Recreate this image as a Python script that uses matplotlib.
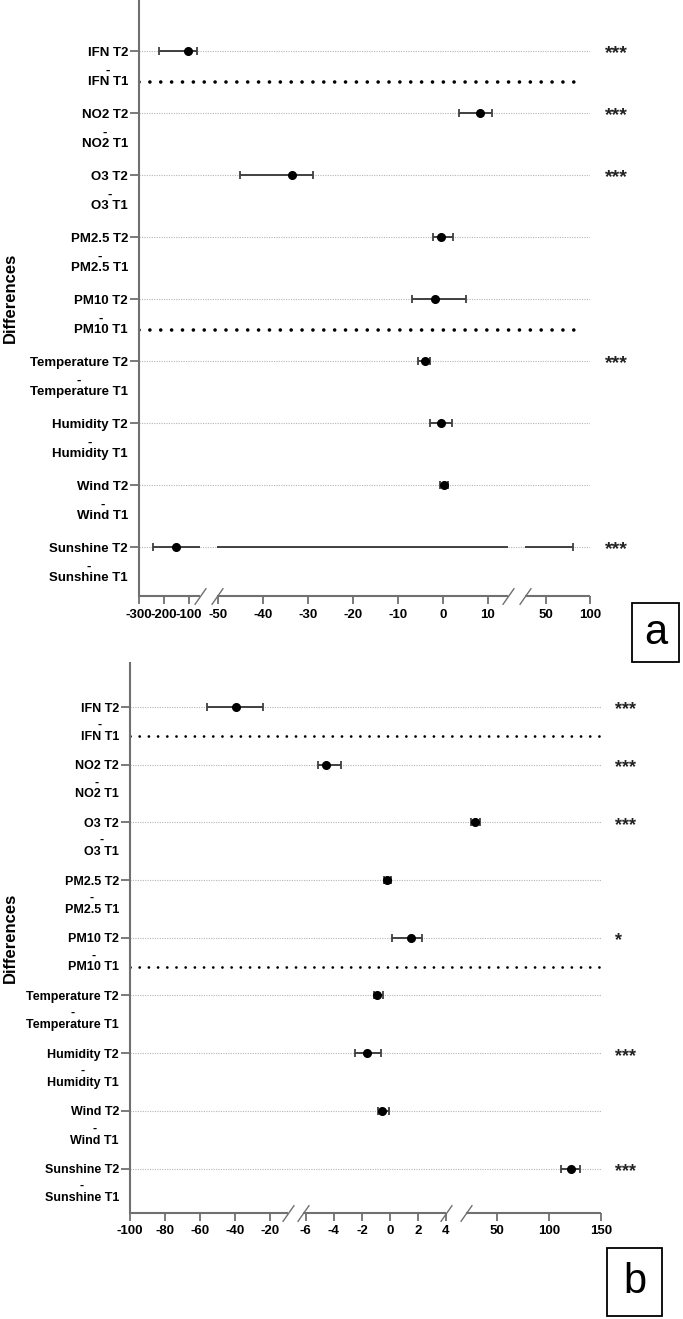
import numpy as np
import matplotlib
matplotlib.use('Agg')
import matplotlib.pyplot as plt
from matplotlib.path import Path
from matplotlib.transforms import blended_transform_factory, ScaledTranslation
from matplotlib.patches import Rectangle
from matplotlib import font_manager

# ---------------- data ----------------
variables = ['IFN', 'NO2', 'O3', 'PM2.5', 'PM10', 'Temperature', 'Humidity', 'Wind', 'Sunshine']

a_mean = [-104, 8.2, -33.6, -0.5, -1.8, -4.0, -0.5, 0.3, -152]
a_low = [-220, 3.6, -45, -2.2, -6.9, -5.5, -2.9, -0.6, -244]
a_high = [-68, 11, -28.9, 2.2, 5.1, -2.9, 2.0, 1.1, 80.7]
a_sig = ['***', '***', '***', '', '', '***', '', '', '***']
a_ticks = [-300, -200, -100, -50, -40, -30, -20, -10, 0, 10, 50, 100]

b_mean = [-39.4, -4.57, 28.8, -0.2, 1.5, -0.93, -1.64, -0.57, 121]
b_low = [-56, -5.1, 25, -0.45, 0.14, -1.14, -2.5, -0.86, 111.5]
b_high = [-24, -3.5, 33.6, 0.1, 2.3, -0.5, -0.64, -0.07, 130]
b_sig = ['***', '***', '***', '', '*', '', '***', '', '***']
b_ticks = [-100, -80, -60, -40, -20, -6, -4, -2, 0, 2, 4, 50, 100, 150]

thick_rows = ['IFN', 'PM10']

# ---------------- layout (segmented axis) ----------------
A_BREAKS = [-300, -56, -50.2, 14.5, 26, 100]
A_POS = [0, 61, 78, 369, 386, 451]
B_BREAKS = [-100, -10, -6.2, 4, 20, 150]
B_POS = [0, 157.5, 173, 316, 336, 471]

avail = {f.name for f in font_manager.fontManager.ttflist}
LABEL_FONT = ['Liberation Sans Narrow'] if 'Liberation Sans Narrow' in avail else ['Liberation Sans']
LABEL_FONT = LABEL_FONT + ['DejaVu Sans']
plt.rcParams['font.family'] = ['Liberation Sans', 'DejaVu Sans']

W, H = 683, 1319
fig = plt.figure(figsize=(W / 100, H / 100), dpi=100)

AXIS_COL = '#707070'
ERR_COL = '#404040'


def make_scale(bx, bp):
    bx = np.asarray(bx, float)
    bp = np.asarray(bp, float)
    s0 = (bp[1] - bp[0]) / (bx[1] - bx[0])
    s1 = (bp[-1] - bp[-2]) / (bx[-1] - bx[-2])

    def fwd(x):
        x = np.asarray(x, float)
        y = np.interp(x, bx, bp)
        y = np.where(x < bx[0], bp[0] + (x - bx[0]) * s0, y)
        y = np.where(x > bx[-1], bp[-1] + (x - bx[-1]) * s1, y)
        return y

    def inv(y):
        y = np.asarray(y, float)
        x = np.interp(y, bp, bx)
        x = np.where(y < bp[0], bx[0] + (y - bp[0]) / s0, x)
        x = np.where(y > bp[-1], bx[-1] + (y - bp[-1]) / s1, x)
        return x

    return fwd, inv


slash = Path([(-0.35, -0.5), (0.35, 0.5)], [Path.MOVETO, Path.LINETO])


def panel(rect, ylim, means, lows, highs, sigs, ticks, breaks, pos,
          fs_lab, fs_tick, dot_lw, dot_gap, thick_xmax, star_x, ylabel_x,
          t1_dy, linesp, star_fs):
    ax = fig.add_axes(rect)
    fwd, inv = make_scale(breaks, pos)
    ax.set_xscale('function', functions=(fwd, inv))
    ax.set_xlim(breaks[0], breaks[-1])
    ax.set_ylim(*ylim)
    n = len(variables)
    t2 = np.arange(n, dtype=float)
    t1 = t2 + 0.5

    for s in ['top', 'right', 'bottom']:
        ax.spines[s].set_visible(False)
    ax.spines['left'].set_color(AXIS_COL)
    ax.spines['left'].set_linewidth(1.5)

    for y in t2:
        ax.axhline(y, color='#b5b5b5', lw=0.8, ls=(0, (1, 1.2)), zorder=1)
    for name in thick_rows:
        i = variables.index(name)
        ax.axhline(t1[i], xmax=thick_xmax, color='black', lw=dot_lw,
                   ls=(0, (0.01, dot_gap)), dash_capstyle='round', zorder=1)

    segs = [(breaks[0], breaks[1]), (breaks[2], breaks[3]), (breaks[4], breaks[5])]
    for y, m, lo, hi in zip(t2, means, lows, highs):
        for s0, s1 in segs:
            a, b = max(lo, s0), min(hi, s1)
            if a < b:
                ax.hlines(y, a, b, color=ERR_COL, lw=1.4, zorder=3)
        ax.plot([lo, hi], [y, y], ls='none', marker='|', ms=6, mew=1.3,
                color=ERR_COL, zorder=3)
        ax.plot([m], [y], 'o', ms=5.5, color='black', zorder=4)

    bt = blended_transform_factory(ax.transData, ax.transAxes)
    for s0, s1 in segs:
        ax.plot([s0, s1], [0, 0], color=AXIS_COL, lw=1.5, transform=bt,
                clip_on=False, solid_capstyle='butt', zorder=5)
    for xb in breaks[1:-1]:
        ax.plot([xb], [0.0], marker=slash, ms=12, mew=1.0, color=AXIS_COL,
                transform=bt, clip_on=False, zorder=6)

    ax.set_xticks(ticks)
    ax.set_xticklabels([str(t) for t in ticks], fontweight='bold',
                       fontsize=fs_tick, family=LABEL_FONT)
    ax.tick_params(axis='x', direction='out', length=6, width=1.3,
                   color=AXIS_COL, pad=3)
    ax.xaxis.set_minor_locator(matplotlib.ticker.NullLocator())

    ax.set_yticks(t2)
    ax.set_yticklabels([v + ' T2' for v in variables], fontweight='bold',
                       fontsize=fs_lab, family=LABEL_FONT)
    ax.tick_params(axis='y', direction='out', length=6.5, width=1.3,
                   color=AXIS_COL, pad=1.5)
    ax.yaxis.set_minor_locator(matplotlib.ticker.NullLocator())

    off = blended_transform_factory(ax.transAxes, ax.transData) + \
        ScaledTranslation(-(6.5 + 1.5) / 72, 0, fig.dpi_scale_trans)
    for v, y in zip(variables, t1):
        ax.text(0, y - t1_dy, '-\n' + v + ' T1', transform=off, ha='right',
                va='center', multialignment='center', fontweight='bold',
                fontsize=fs_lab, family=LABEL_FONT, linespacing=linesp)

    st = blended_transform_factory(ax.transAxes, ax.transData) + \
        ScaledTranslation(0, -3 / 100, fig.dpi_scale_trans)
    for y, s in zip(t2, sigs):
        if s:
            ax.text(star_x, y, s, transform=st, ha='left', va='center',
                    fontsize=star_fs, fontweight='bold', color='#222222')

    ax.set_ylabel('Differences', fontweight='bold', fontsize=12)
    ax.yaxis.set_label_coords(ylabel_x, 0.5)
    return ax


ax_a = panel([139 / W, 1 - 596 / H, 451 / W, 596 / H], (8.79, -0.823),
             a_mean, a_low, a_high, a_sig, a_ticks, A_BREAKS, A_POS,
             fs_lab=9.5, fs_tick=9.5, dot_lw=2.6, dot_gap=3.0, thick_xmax=0.985,
             star_x=1.033, ylabel_x=-0.268, t1_dy=0.09, linesp=1.0, star_fs=14)

ax_b = panel([130 / W, 1 - 1213 / H, 471 / W, 550 / H], (8.77, -0.763),
             b_mean, b_low, b_high, b_sig, b_ticks, B_BREAKS, B_POS,
             fs_lab=9, fs_tick=9.5, dot_lw=2.0, dot_gap=3.3, thick_xmax=1.0,
             star_x=1.03, ylabel_x=-0.238, t1_dy=0.09, linesp=1.0, star_fs=13)

for (x0, y0, x1, y1, letter) in [(632, 603, 679, 662, 'a'), (607, 1248, 662, 1316, 'b')]:
    fig.add_artist(Rectangle((x0 / W, 1 - y1 / H), (x1 - x0) / W, (y1 - y0) / H,
                             transform=fig.transFigure, fill=False, lw=1.3, ec='black'))
    fig.text((x0 + x1) / 2 / W, 1 - (y0 + y1) / 2 / H, letter, ha='center',
             va='center', fontsize=30, family=['Liberation Sans', 'DejaVu Sans'])

fig.savefig('out.png', dpi=100)
